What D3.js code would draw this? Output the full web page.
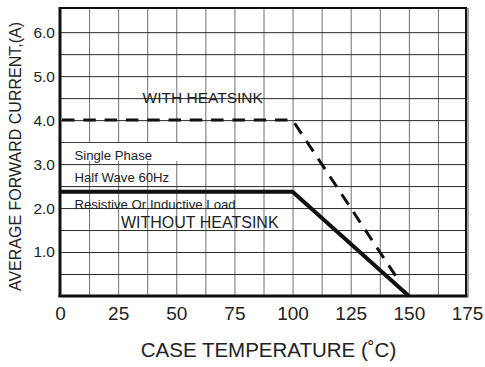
<!DOCTYPE html>
<html>
<head>
<meta charset="utf-8">
<script src="https://cdn.jsdelivr.net/npm/d3@7"></script>
<style>
    body { margin: 0; background: #fff; }
    svg { display: block; font-family: "Liberation Sans", Arial, sans-serif; }
</style>
</head>
<body>
<svg id="svg" width="485" height="367"></svg>
<script>
// Axis ticks
var tempTicks = [0, 25, 50, 75, 100, 125, 150, 175];
var currentTicks = [1.0, 2.0, 3.0, 4.0, 5.0, 6.0];

// Derating curves (case temperature in C, current in A)
var withSinkTemp = [0, 100, 144.3];
var withSinkCurrent = [4.0, 4.0, 0.46];
var withoutSinkTemp = [0, 100, 150];
var withoutSinkCurrent = [2.37, 2.37, 0];

// Condition notes
var notes = ["Single Phase", "Half Wave 60Hz", "Resistive Or Inductive Load"];

function drawChart()
{
    var svg = d3.select('#svg');
    var left = 60, right = 467, top = 8, bottom = 296;

    var x = d3.scaleLinear().domain([0, 175]).range([left, right]);
    var y = d3.scaleLinear().domain([0, 6.55]).range([bottom, top]);

    // Grid, every 12.5 C and every 0.5 A
    var xGrid = d3.range(12.5, 175, 12.5);
    var yGrid = d3.range(0.5, 6.01, 0.5);

    svg.append("g")
        .attr("transform", `translate(0,${bottom})`)
        .call(d3.axisBottom(x).tickValues(xGrid).tickSize(-(bottom - top)).tickFormat(""))
        .call(g => g.select(".domain").remove())
        .call(g => g.selectAll("line").attr("stroke", "#707070").attr("stroke-width", 1));

    svg.append("g")
        .attr("transform", `translate(${left},0)`)
        .call(d3.axisLeft(y).tickValues(yGrid).tickSize(-(right - left)).tickFormat(""))
        .call(g => g.select(".domain").remove())
        .call(g => g.selectAll("line").attr("stroke", "#2a2a2a").attr("stroke-width", 1));

    // White box behind the first note line
    svg.append("rect")
        .attr("x", left + 1).attr("y", y(3.5) + 1)
        .attr("width", x(51) - left).attr("height", y(3.0) - y(3.5) - 4)
        .attr("fill", "#fff");

    // Frame
    svg.append("line").attr("x1", left).attr("x2", left).attr("y1", top - 1).attr("y2", bottom + 1)
        .attr("stroke", "#111").attr("stroke-width", 3);
    svg.append("line").attr("x1", left - 1.5).attr("x2", right + 1).attr("y1", bottom).attr("y2", bottom)
        .attr("stroke", "#111").attr("stroke-width", 3);
    svg.append("line").attr("x1", left).attr("x2", right).attr("y1", top).attr("y2", top)
        .attr("stroke", "#111").attr("stroke-width", 2);
    svg.append("line").attr("x1", right - 1).attr("x2", right - 1).attr("y1", top - 1).attr("y2", bottom)
        .attr("stroke", "#111").attr("stroke-width", 2);
    svg.append("line").attr("x1", right + 1).attr("x2", right + 1).attr("y1", top).attr("y2", bottom + 1)
        .attr("stroke", "#888").attr("stroke-width", 1.5);

    // Tick labels
    svg.append("g")
        .attr("transform", `translate(0,${bottom})`)
        .call(d3.axisBottom(x).tickValues(tempTicks).tickSize(0).tickPadding(10.5).tickFormat(d3.format("d")))
        .call(g => g.select(".domain").remove())
        .call(g => g.selectAll("text").attr("font-size", 19).attr("font-family", null).attr("fill", "#222"));

    svg.append("g")
        .attr("transform", `translate(${left},0)`)
        .call(d3.axisLeft(y).tickValues(currentTicks).tickSize(0).tickPadding(5).tickFormat(d3.format(".1f")))
        .call(g => g.select(".domain").remove())
        .call(g => g.selectAll("text").attr("font-size", 15.5).attr("font-family", null).attr("fill", "#222"));

    // Curves
    var line = d3.line().x(d => x(d[0])).y(d => y(d[1]));

    svg.append("path")
        .datum(d3.zip(withSinkTemp, withSinkCurrent))
        .attr("d", line)
        .attr("fill", "none")
        .attr("stroke", "#111")
        .attr("stroke-width", 3)
        .attr("stroke-dasharray", "12.5,8.8")
        .attr("stroke-dashoffset", -2);

    svg.append("path")
        .datum(d3.zip(withoutSinkTemp, withoutSinkCurrent))
        .attr("d", line)
        .attr("fill", "none")
        .attr("stroke", "#111")
        .attr("stroke-width", 4);

    // Annotations
    svg.append("text").attr("x", x(35.5)).attr("y", y(4.39))
        .attr("font-size", 15.5).attr("fill", "#222").text("WITH HEATSINK");

    var noteY = [3.09, 2.60, 1.99];
    svg.append("g").selectAll("text")
        .data(notes)
        .join("text")
            .attr("x", x(6.2))
            .attr("y", (d, i) => y(noteY[i]))
            .attr("font-size", 13.2)
            .attr("fill", "#222")
            .text(d => d);

    svg.append("text").attr("x", x(26.2)).attr("y", y(1.54))
        .attr("font-size", 16).attr("fill", "#222").text("WITHOUT HEATSINK");

    // Axis titles
    svg.append("text")
        .attr("transform", "translate(20.5,156.5) rotate(-90)")
        .attr("text-anchor", "middle")
        .attr("font-size", 16).attr("fill", "#222")
        .text("AVERAGE FORWARD CURRENT,(A)");

    svg.append("text")
        .attr("x", 268.5).attr("y", 356.7)
        .attr("text-anchor", "middle")
        .attr("font-size", 20.5).attr("fill", "#222")
        .text("CASE TEMPERATURE (\u02DAC)");
}

drawChart();
</script>
</body>
</html>
